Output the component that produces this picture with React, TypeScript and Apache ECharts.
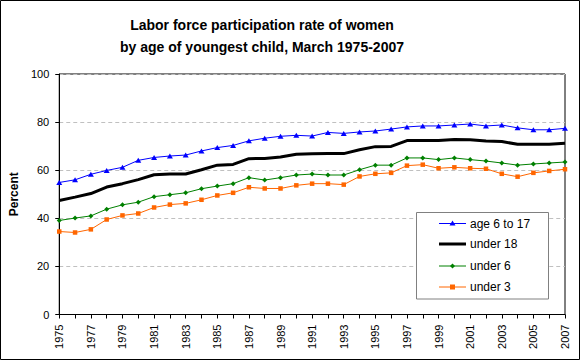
import React, { useEffect, useRef } from "react";
import * as echarts from "echarts";

const years = [
  "1975","1976","1977","1978","1979","1980","1981","1982","1983","1984","1985",
  "1986","1987","1988","1989","1990","1991","1992","1993","1994","1995","1996",
  "1997","1998","1999","2000","2001","2002","2003","2004","2005","2006","2007",
];

const age6to17 = [
  54.9, 56.0, 58.3, 59.9, 61.2, 64.1, 65.3, 65.9, 66.3, 68.0, 69.4,
  70.3, 72.2, 73.3, 74.1, 74.5, 74.2, 75.7, 75.3, 75.9, 76.3, 77.1,
  78.0, 78.4, 78.4, 78.8, 79.2, 78.4, 78.8, 77.6, 76.8, 76.8, 77.4,
];

const under18 = [
  47.4, 48.8, 50.3, 53.0, 54.4, 56.1, 58.1, 58.4, 58.4, 60.2, 62.1,
  62.4, 64.8, 64.9, 65.5, 66.6, 66.8, 66.9, 66.9, 68.5, 69.8, 69.9,
  72.3, 72.3, 72.3, 72.8, 72.7, 72.1, 71.9, 70.8, 70.8, 70.8, 71.2,
];

const under6 = [
  39.1, 40.1, 41.0, 43.8, 45.6, 46.7, 49.0, 49.8, 50.6, 52.3, 53.4,
  54.4, 56.9, 55.9, 56.9, 58.0, 58.4, 58.0, 58.0, 60.2, 62.1, 62.1,
  65.1, 65.1, 64.4, 65.1, 64.4, 63.8, 63.0, 62.1, 62.6, 63.0, 63.4,
];

const under3 = [
  34.5, 34.1, 35.4, 39.5, 41.2, 42.0, 44.5, 45.7, 46.2, 47.7, 49.5,
  50.6, 52.9, 52.4, 52.4, 53.7, 54.4, 54.4, 54.0, 57.4, 58.5, 58.9,
  61.9, 62.3, 60.8, 61.2, 60.8, 60.6, 58.5, 57.3, 58.9, 59.7, 60.4,
];

const seriesNames = ["age 6 to 17", "under 18", "under 6", "under 3"];
const seriesColors = ["#0000ff", "#000000", "#008000", "#ff6600"];

const titleLines = [
  "Labor force participation rate of women",
  "by age of youngest child, March 1975-2007",
];

const FONT = "Liberation Sans, Arial, sans-serif";

function legendGraphics() {
  const boxX = 416.5, boxY = 212.5, boxW = 132, boxH = 86.5;
  const rows = [223.5, 244, 266, 287];
  const lineX1 = 439, lineX2 = 466, symX = 452.5, textX = 470;
  const els: any[] = [
    {
      type: "rect",
      shape: { x: boxX, y: boxY, width: boxW, height: boxH },
      style: { fill: "#fff", stroke: "#808080", lineWidth: 1 },
      z: 100,
    },
  ];
  seriesNames.forEach((name, i) => {
    const y = rows[i];
    const c = seriesColors[i];
    els.push({
      type: "line",
      shape: { x1: lineX1, y1: y, x2: lineX2, y2: y },
      style: { stroke: c, lineWidth: i === 1 ? 3 : 1 },
      z: 101,
    });
    if (i === 0) {
      els.push({
        type: "polygon",
        shape: { points: [[symX, y - 3], [symX + 3, y + 2], [symX - 3, y + 2]] },
        style: { fill: c },
        z: 102,
      });
    } else if (i === 2) {
      els.push({
        type: "polygon",
        shape: { points: [[symX, y - 2.5], [symX + 2.5, y], [symX, y + 2.5], [symX - 2.5, y]] },
        style: { fill: c },
        z: 102,
      });
    } else if (i === 3) {
      els.push({
        type: "rect",
        shape: { x: symX - 2.5, y: y - 2.5, width: 5, height: 5 },
        style: { fill: c },
        z: 102,
      });
    }
    els.push({
      type: "text",
      x: textX,
      y: y,
      style: {
        text: name,
        font: `12px ${FONT}`,
        fill: "#000",
        textAlign: "left",
        textVerticalAlign: "middle",
      },
      z: 102,
    });
  });
  return els;
}

export default function App() {
  const ref = useRef<HTMLDivElement>(null);
  useEffect(() => {
    if (!ref.current) return;
    const chart = echarts.init(ref.current, null, { renderer: "svg" });
    const symbols = ["triangle", "none", "diamond", "rect"];
    const symbolSizes = [[6, 5], 0, 5, 4.5];
    chart.setOption({
      animation: false,
      backgroundColor: "#ffffff",
      textStyle: { fontFamily: FONT, color: "#000" },
      graphic: [
        {
          type: "rect",
          shape: { x: 0.5, y: 0.5, width: 579, height: 359 },
          style: { fill: "none", stroke: "#000", lineWidth: 1 },
          silent: true,
        },
        {
          type: "text",
          x: 262,
          y: 25,
          style: {
            text: titleLines[0],
            font: `bold 14px ${FONT}`,
            fill: "#000",
            textAlign: "center",
            textVerticalAlign: "middle",
          },
        },
        {
          type: "text",
          x: 262,
          y: 46.5,
          style: {
            text: titleLines[1],
            font: `bold 14px ${FONT}`,
            fill: "#000",
            textAlign: "center",
            textVerticalAlign: "middle",
          },
        },
        ...legendGraphics(),
      ],
      grid: {
        left: 55,
        right: 15,
        top: 74,
        bottom: 45.5,
        show: true,
        borderColor: "#000",
        borderWidth: 1,
        backgroundColor: "transparent",
      },
      xAxis: {
        type: "category",
        data: years,
        boundaryGap: false,
        axisLine: { lineStyle: { color: "#000", width: 1 } },
        axisTick: { show: true, interval: 0, length: 4, lineStyle: { color: "#000" } },
        axisLabel: {
          interval: 1,
          rotate: 90,
          margin: 10,
          fontSize: 11,
          color: "#000",
          fontFamily: FONT,
        },
        splitLine: { show: false },
      },
      yAxis: {
        type: "value",
        min: 0,
        max: 100,
        interval: 20,
        name: "Percent",
        nameLocation: "middle",
        nameRotate: 90,
        nameGap: 32,
        nameTextStyle: { fontWeight: "bold", fontSize: 12, color: "#000", fontFamily: FONT },
        axisLine: { show: true, lineStyle: { color: "#000", width: 1 } },
        axisTick: { show: true, length: 4, lineStyle: { color: "#000" } },
        axisLabel: { margin: 10, fontSize: 11, color: "#000", fontFamily: FONT },
        splitLine: { show: true, lineStyle: { color: "#c0c0c0", type: [4, 3], width: 1 } },
      },
      series: [age6to17, under18, under6, under3].map((d, i) => ({
        name: seriesNames[i],
        type: "line",
        data: d,
        symbol: symbols[i],
        symbolSize: symbolSizes[i],
        showAllSymbol: true,
        lineStyle: { color: seriesColors[i], width: i === 1 ? 3 : 1 },
        itemStyle: { color: seriesColors[i] },
        z: 5 - i,
      })),
    });
    return () => chart.dispose();
  }, []);
  return (
    <div
      ref={ref}
      style={{ position: "absolute", left: 0, top: 0, width: 580, height: 360 }}
    />
  );
}
